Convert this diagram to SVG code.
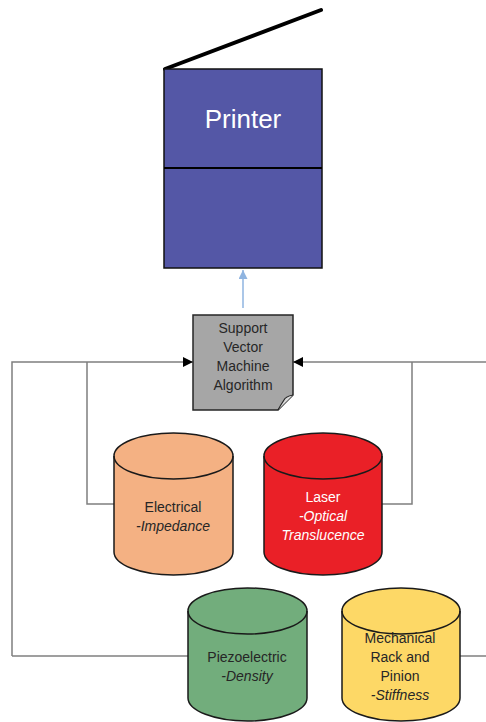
<svg xmlns="http://www.w3.org/2000/svg" width="486" height="722" viewBox="0 0 486 722">
<defs>
<style>
text{font-family:"Liberation Sans",Arial,sans-serif;font-size:14px;text-anchor:middle;fill:#262626}
.it{font-style:italic}
.w{fill:#ffffff}
.cyl{stroke:#1a1a1a;stroke-width:1.5}
.conn{fill:none;stroke:#7f7f7f;stroke-width:1.5}
</style>
<marker id="ah" viewBox="0 0 10 10" refX="10" refY="5" markerWidth="10" markerHeight="10" markerUnits="userSpaceOnUse" orient="auto">
<path d="M0,0 L10,5 L0,10 Z" fill="#000"/>
</marker>
<marker id="ahb" viewBox="0 0 10 10" refX="10" refY="5" markerWidth="9" markerHeight="9" markerUnits="userSpaceOnUse" orient="auto">
<path d="M0,0 L10,5 L0,10 Z" fill="#8fb4e0"/>
</marker>
</defs>
<rect width="486" height="722" fill="#ffffff"/>

<g id="connectors">
<line x1="243" y1="308" x2="243" y2="270" stroke="#8fb4e0" stroke-width="1.5" marker-end="url(#ahb)"/>
<path class="conn" d="M12,656 V362 H193" marker-end="url(#ah)"/>
<path class="conn" d="M87,362 V504 H114"/>
<path class="conn" d="M486,362 H293" marker-end="url(#ah)"/>
<path class="conn" d="M412,362 V504 H382"/>
<path class="conn" d="M12,656 H188"/>
<path class="conn" d="M460,656 H486"/>
</g>

<g id="printer">
<line x1="165" y1="69" x2="321" y2="10" stroke="#000" stroke-width="4" stroke-linecap="round"/>
<rect x="164" y="69" width="158" height="199" fill="#5457a6" stroke="#111" stroke-width="1.5"/>
<line x1="164" y1="168" x2="322" y2="168" stroke="#000" stroke-width="2"/>
<text x="243" y="128" class="w" style="font-size:26px">Printer</text>
</g>

<g id="svm">
<path d="M193,315 H293 V395 L278,410 H193 Z" fill="#a6a6a6" stroke="#262626" stroke-width="1.5"/>
<path d="M293,395 C288,396 285,397 284,400 C282,403 280,406 278,410" fill="#d9d9d9" stroke="#262626" stroke-width="1.2"/>
<text x="243" y="333">Support</text>
<text x="243" y="352">Vector</text>
<text x="243" y="371">Machine</text>
<text x="243" y="390">Algorithm</text>
</g>

<g id="electrical">
<path class="cyl" d="M114,456 A59.5,23 0 0 1 233,456 V552 A59.5,23 0 0 1 114,552 Z" fill="#f4b183"/>
<path class="cyl" d="M114,456 A59.5,23 0 0 0 233,456" fill="none"/>
<text x="173" y="512">Electrical</text>
<text x="173" y="531" class="it">-Impedance</text>
</g>

<g id="laser">
<path class="cyl" d="M264,456 A59,23 0 0 1 382,456 V552 A59,23 0 0 1 264,552 Z" fill="#ea2027"/>
<path class="cyl" d="M264,456 A59,23 0 0 0 382,456" fill="none"/>
<text x="323" y="502" class="w">Laser</text>
<text x="323" y="521" class="it w">-Optical</text>
<text x="323" y="540" class="it w">Translucence</text>
</g>

<g id="piezo">
<path class="cyl" d="M188,611 A59.5,23 0 0 1 307,611 V698 A59.5,23 0 0 1 188,698 Z" fill="#72ad7c"/>
<path class="cyl" d="M188,611 A59.5,23 0 0 0 307,611" fill="none"/>
<text x="247" y="662">Piezoelectric</text>
<text x="247" y="681" class="it">-Density</text>
</g>

<g id="mechanical">
<path class="cyl" d="M342,611 A59,23 0 0 1 460,611 V698 A59,23 0 0 1 342,698 Z" fill="#fdd866"/>
<path class="cyl" d="M342,611 A59,23 0 0 0 460,611" fill="none"/>
<text x="400" y="643">Mechanical</text>
<text x="400" y="662">Rack and</text>
<text x="400" y="681">Pinion</text>
<text x="400" y="700" class="it">-Stiffness</text>
</g>
</svg>
